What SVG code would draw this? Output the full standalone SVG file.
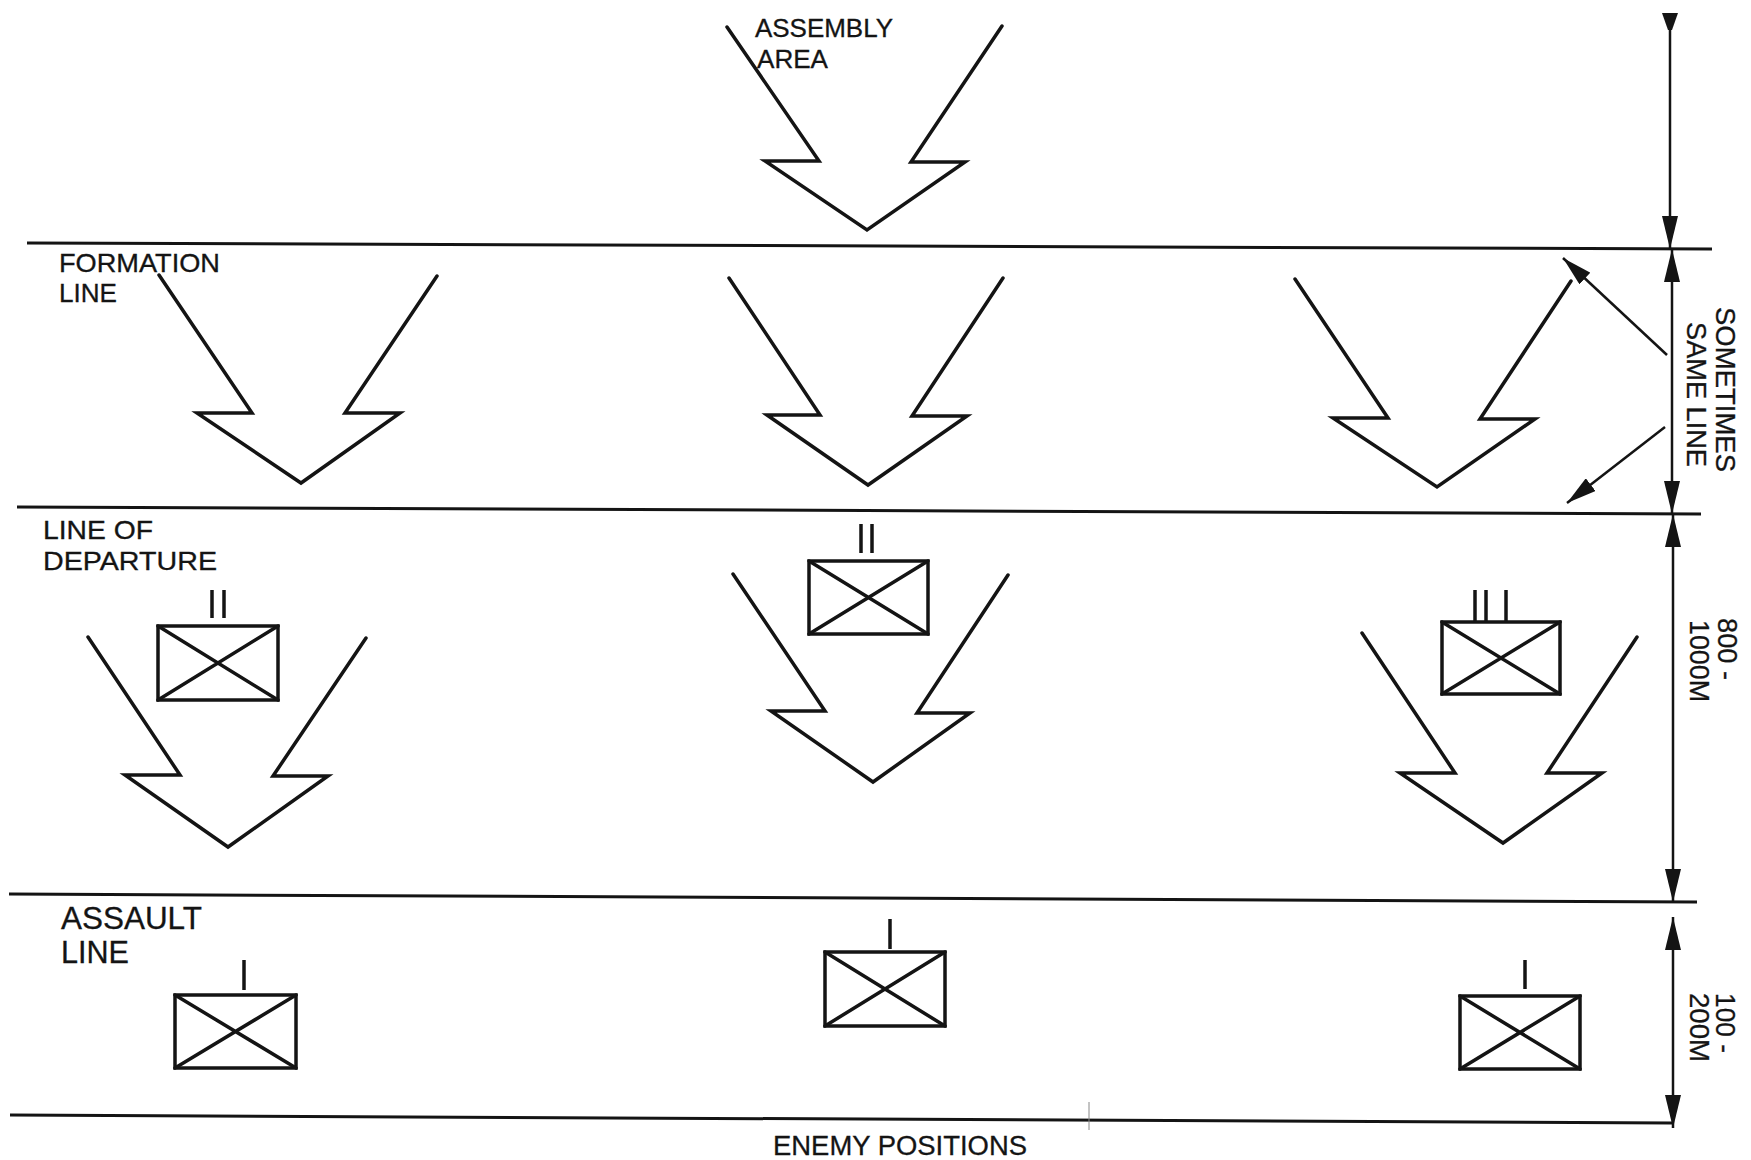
<svg xmlns="http://www.w3.org/2000/svg" width="1751" height="1160" viewBox="0 0 1751 1160">
<style>
  .ln { stroke:#141414; stroke-width:3; fill:none; }
  .sym { stroke:#141414; stroke-width:3.5; fill:none; stroke-linejoin:miter; stroke-linecap:round; }
  .bar { stroke:#141414; stroke-width:3.5; }
  .dim { stroke:#141414; stroke-width:2.5; fill:none; }
  .lbl { font-family:"Liberation Sans", Arial, sans-serif; font-size:25px; fill:#141414; stroke:#141414; stroke-width:0.3; }
  .big { font-family:"Liberation Sans", Arial, sans-serif; font-size:31px; fill:#141414; stroke:#141414; stroke-width:0.3; }
  .rot { font-family:"Liberation Sans", Arial, sans-serif; font-size:27px; fill:#141414; stroke:#141414; stroke-width:0.3; }
</style>
<defs>
  <marker id="ah" viewBox="0 0 33 16" refX="33" refY="8" markerWidth="33" markerHeight="16" markerUnits="userSpaceOnUse" orient="auto-start-reverse">
    <path d="M0,0 L33,8 L0,16 z" fill="#141414"/>
  </marker>
  <marker id="ahs" viewBox="0 0 30 16" refX="30" refY="8" markerWidth="30" markerHeight="16" markerUnits="userSpaceOnUse" orient="auto">
    <path d="M0,0 L30,8 L0,16 z" fill="#141414"/>
  </marker>
</defs>
<rect width="1751" height="1160" fill="#ffffff"/>

<g id="phase-lines">
  <line class="ln" x1="27" y1="243" x2="1712" y2="249"/>
  <line class="ln" x1="17" y1="507" x2="1701" y2="514"/>
  <line class="ln" x1="9" y1="894" x2="1697" y2="902"/>
  <line class="ln" x1="10" y1="1115" x2="1672" y2="1123"/>
  <line x1="1089" y1="1102" x2="1089" y2="1130" stroke="#888" stroke-width="1"/>
</g>

<g id="labels">
  <text class="lbl" x="755" y="37" textLength="138" lengthAdjust="spacingAndGlyphs">ASSEMBLY</text>
  <text class="lbl" x="757" y="68" textLength="71" lengthAdjust="spacingAndGlyphs">AREA</text>
  <text class="lbl" x="59" y="272" textLength="161" lengthAdjust="spacingAndGlyphs">FORMATION</text>
  <text class="lbl" x="59" y="302" textLength="58" lengthAdjust="spacingAndGlyphs">LINE</text>
  <text class="lbl" x="43" y="539" textLength="110" lengthAdjust="spacingAndGlyphs">LINE OF</text>
  <text class="lbl" x="43" y="570" textLength="174" lengthAdjust="spacingAndGlyphs">DEPARTURE</text>
  <text class="big" x="61" y="929" textLength="141" lengthAdjust="spacingAndGlyphs">ASSAULT</text>
  <text class="big" x="61" y="963" textLength="68" lengthAdjust="spacingAndGlyphs">LINE</text>
  <text class="rot" x="773" y="1155" textLength="254" lengthAdjust="spacingAndGlyphs">ENEMY POSITIONS</text>
</g>

<g id="arrow-assembly"><polyline class="sym" points="727,27 819,161 765,161 867,230 965,162 911,162 1002,26"/></g>
<g id="arrow-formation-left"><polyline class="sym" points="159,275 252,413 197,413 301,483 400,413 345,413 437,276"/></g>
<g id="arrow-formation-center"><polyline class="sym" points="729,278 820,415 767,415 868,485 967,416 912,416 1003,278"/></g>
<g id="arrow-formation-right"><polyline class="sym" points="1295,279 1388,418 1333,418 1437,487 1535,419 1480,419 1571,281"/></g>
<g id="arrow-lod-left"><polyline class="sym" points="88,637 180,775 125,775 228,847 328,776 273,776 366,638"/></g>
<g id="arrow-lod-center"><polyline class="sym" points="733,574 825,711 771,711 873,782 970,713 917,713 1008,575"/></g>
<g id="arrow-lod-right"><polyline class="sym" points="1362,633 1455,773 1400,773 1503,843 1602,773 1547,773 1637,637"/></g>

<g id="unit-lod-left">
  <rect class="sym" x="158" y="626" width="120" height="74"/>
  <path class="sym" d="M158,626 L278,700 M278,626 L158,700"/>
  <path class="bar" d="M212,590 V618 M224,590 V618"/>
</g>
<g id="unit-lod-center">
  <rect class="sym" x="809" y="561" width="119" height="73"/>
  <path class="sym" d="M809,561 L928,634 M928,561 L809,634"/>
  <path class="bar" d="M861,524 V553 M872,524 V553"/>
</g>
<g id="unit-lod-right">
  <rect class="sym" x="1442" y="622" width="118" height="72"/>
  <path class="sym" d="M1442,622 L1560,694 M1560,622 L1442,694"/>
  <path class="bar" d="M1475,590 V622 M1486,590 V622 M1506,590 V622"/>
</g>
<g id="unit-assault-left">
  <rect class="sym" x="175" y="995" width="121" height="73"/>
  <path class="sym" d="M175,995 L296,1068 M296,995 L175,1068"/>
  <path class="bar" d="M244,960 V990"/>
</g>
<g id="unit-assault-center">
  <rect class="sym" x="825" y="952" width="120" height="74"/>
  <path class="sym" d="M825,952 L945,1026 M945,952 L825,1026"/>
  <path class="bar" d="M890,919 V949"/>
</g>
<g id="unit-assault-right">
  <rect class="sym" x="1460" y="996" width="120" height="73"/>
  <path class="sym" d="M1460,996 L1580,1069 M1580,996 L1460,1069"/>
  <path class="bar" d="M1525,960 V989"/>
</g>

<g id="connectors">
  <line class="dim" x1="1670" y1="20" x2="1670" y2="249" marker-end="url(#ah)"/>
  <polygon points="1662,13 1678,13 1672,30 1668,30" fill="#141414"/>
  <line class="dim" x1="1672" y1="249" x2="1672" y2="514" marker-start="url(#ah)" marker-end="url(#ah)"/>
  <line class="dim" x1="1673" y1="514" x2="1673" y2="902" marker-start="url(#ah)" marker-end="url(#ah)"/>
  <line class="dim" x1="1673" y1="917" x2="1673" y2="1128" marker-start="url(#ah)" marker-end="url(#ah)"/>
  <line class="dim" x1="1667" y1="355" x2="1563" y2="258" marker-end="url(#ahs)"/>
  <line class="dim" x1="1665" y1="427" x2="1567" y2="503" marker-end="url(#ahs)"/>
</g>

<g id="dim-labels">
  <text class="rot" transform="translate(1716,307) rotate(90)" textLength="165" lengthAdjust="spacingAndGlyphs">SOMETIMES</text>
  <text class="rot" transform="translate(1687,322) rotate(90)" textLength="145" lengthAdjust="spacingAndGlyphs">SAME LINE</text>
  <text class="rot" transform="translate(1718,618) rotate(90)" textLength="62" lengthAdjust="spacingAndGlyphs">800 -</text>
  <text class="rot" transform="translate(1690,620) rotate(90)" textLength="82" lengthAdjust="spacingAndGlyphs">1000M</text>
  <text class="rot" transform="translate(1716,993) rotate(90)" textLength="60" lengthAdjust="spacingAndGlyphs">100 -</text>
  <text class="rot" transform="translate(1690,993) rotate(90)" textLength="69" lengthAdjust="spacingAndGlyphs">200M</text>
</g>
</svg>
